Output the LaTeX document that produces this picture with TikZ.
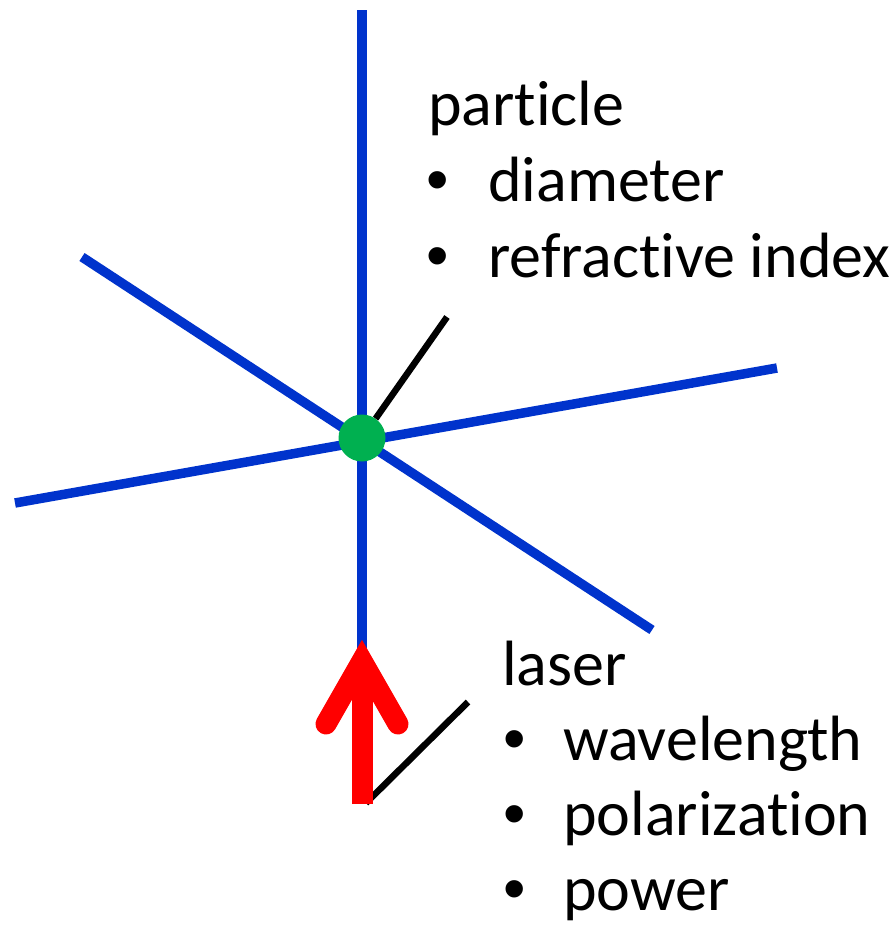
\documentclass[tikz,border=0pt]{standalone}
\usepackage{fontspec}
\setmainfont[RawFeature={-liga;-clig;-calt;-dlig}]{Carlito}
\newfontfamily\bulletfont{Liberation Sans}
\newcommand{\bul}[1]{\makebox[#1][l]{\bulletfont •}}
\definecolor{beamblue}{RGB}{0,51,204}
\definecolor{partgreen}{RGB}{0,176,80}
\definecolor{laserred}{RGB}{255,0,0}
\begin{document}
\begin{tikzpicture}[x=1pt,y=-1pt,
  beam/.style={draw=beamblue,line width=9.5pt},
  pointer/.style={draw=black,line width=6.5pt},
  lbl/.style={anchor=base west,inner sep=0pt,font=\fontsize{64}{76}\selectfont},
  particle/.style={circle,fill=partgreen,minimum size=47pt,inner sep=0pt}]
\useasboundingbox (0,0) rectangle (896,926);
% coordinates
\coordinate (vt) at (362,10);
\coordinate (vb) at (362,652);
\coordinate (d1a) at (82,257);
\coordinate (d1b) at (652,630);
\coordinate (d2a) at (15,503);
\coordinate (d2b) at (777,368);
\coordinate (pp) at (447,317);
\coordinate (lp1) at (468,702);
\coordinate (lp2) at (366,803);
\coordinate (shaftb) at (362,804);
\coordinate (shaftt) at (362,662);
\coordinate (barbl) at (326,724);
\coordinate (apex) at (362,661);
\coordinate (barbr) at (398,724);
% blue beams
\draw[beam] (vt) -- (vb);
\draw[beam] (d1a) -- (d1b);
\draw[beam] (d2a) -- (d2b);
% particle
\node[particle] (p) at (362,438) {};
\draw[pointer] (pp) -- (p);
% laser arrow
\draw[pointer] (lp1) -- (lp2);
\draw[draw=laserred,line width=21pt] (shaftb) -- (shaftt);
\draw[draw=laserred,line width=21pt,line cap=round,line join=miter] (barbl) -- (apex) -- (barbr);
% labels
\node[lbl] (t1) at (428,125) {particle};
\node[lbl] (t2) at (426,201) {\bul{62pt}diameter};
\node[lbl] (t3) at (426,277) {\bul{62pt}refract\kern0pt ive index};
\node[lbl] (u1) at (502,685) {laser};
\node[lbl] (u2) at (503,760) {\bul{60pt}wavelength};
\node[lbl] (u3) at (503,835) {\bul{60pt}polarizat\kern0pt ion};
\node[lbl] (u4) at (503,910) {\bul{60pt}power};
\end{tikzpicture}
\end{document}
